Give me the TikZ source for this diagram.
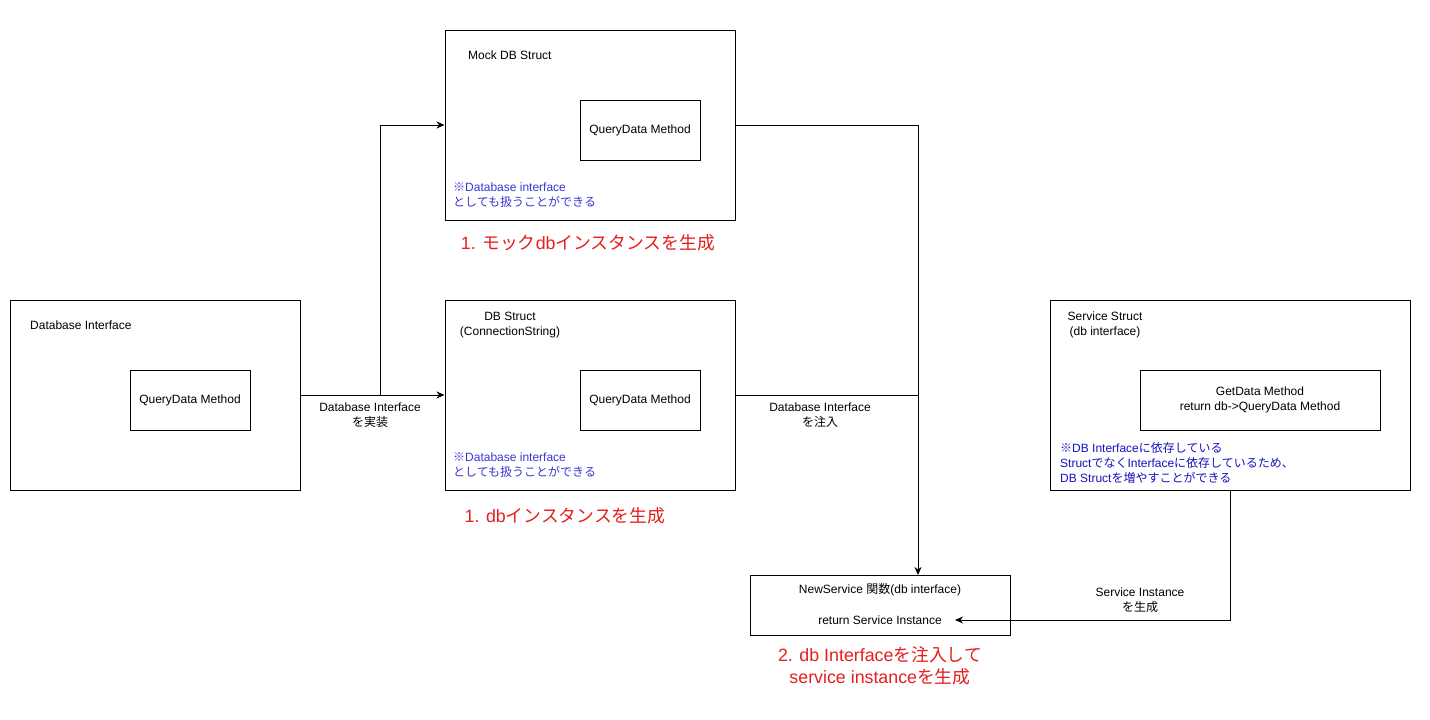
\documentclass[tikz,border=0pt]{standalone}
\usepackage{fontspec}
\setmainfont{Liberation Sans}
\newfontfamily\jp{Noto Sans CJK JP}
\usetikzlibrary{arrows.meta,calc}
\definecolor{noteA}{RGB}{56,56,208}
\definecolor{noteB}{RGB}{20,20,190}
\definecolor{redlbl}{RGB}{230,30,30}
\begin{document}
\begin{tikzpicture}[x=1pt,y=-1pt,
  font=\fontsize{12}{15}\selectfont,
  outerbox/.style={draw=black,line width=1pt,minimum width=290pt,minimum height=190pt,inner sep=0pt},
  innerbox/.style={draw=black,line width=1pt,minimum width=120pt,minimum height=60pt,inner sep=0pt,align=center},
  lbl/.style={inner sep=0pt,align=center},
  notea/.style={inner sep=0pt,align=left,text=noteA},
  noteb/.style={inner sep=0pt,align=left,text=noteB},
  redtext/.style={inner sep=0pt,align=center,text=redlbl,font=\fontsize{17.8}{22}\selectfont},
  conn/.style={draw=black,line width=1pt},
  arr/.style={conn,-{Stealth[length=8pt,width=7pt]}}
]
\useasboundingbox[fill=white] (0,0) rectangle (1430,720);

% Database Interface
\node[outerbox] (dbi) at (155,395) {};
\node[lbl,anchor=west] (dbilbl) at (30,325) {Database Interface};
\node[innerbox] (dbiq) at (190,400) {QueryData Method};

% Mock DB Struct
\node[outerbox] (mock) at (590,125) {};
\node[lbl,anchor=west] (mocklbl) at (468,55) {Mock DB Struct};
\node[innerbox] (mockq) at (640,130) {QueryData Method};
\node[notea,anchor=west] (mocknote) at (453,195) {{\jp ※}Database interface\\{\jp としても扱うことができる}};

% DB Struct
\node[outerbox] (db) at (590,395) {};
\node[lbl] (dblbl) at (510,325) {DB Struct\\(ConnectionString)};
\node[innerbox] (dbq) at (640,400) {QueryData Method};
\node[notea,anchor=west] (dbnote) at (453,465) {{\jp ※}Database interface\\{\jp としても扱うことができる}};

% Service Struct
\node[outerbox,minimum width=360pt] (svc) at (1230,395) {};
\node[lbl] (svclbl) at (1105,325) {Service Struct\\(db interface)};
\node[innerbox,minimum width=240pt] (svcq) at (1260,400) {GetData Method\\return db-\textgreater QueryData Method};
\node[noteb,anchor=west] (svcnote) at (1060,463) {{\jp ※}DB Interface{\jp に依存している}\\Struct{\jp でなく}Interface{\jp に依存しているため、}\\DB Struct{\jp を増やすことができる}};

% NewService
\node[draw=black,line width=1pt,minimum width=260pt,minimum height=60pt,inner sep=0pt] (ns) at (880,605) {};
\node[lbl] (nstitle) at (880,590) {NewService {\jp 関数}(db interface)};
\node[lbl] (nsret) at (880,620) {return Service Instance};

% red labels
\node[redtext] (red1) at (588,243) {1. {\jp モック}db{\jp インスタンスを生成}};
\node[redtext] (red2) at (565,516) {1. db{\jp インスタンスを生成}};
\node[redtext] (red3) at (880,666) {2. db Interface{\jp を注入して}\\service instance{\jp を生成}};

% connectors
\coordinate (split) at (380,395);
\coordinate (nsin) at (918,575);
\coordinate (retin) at (955,620);
\draw[arr] (dbi.east |- split) -- (db.west |- split);
\draw[arr] (split) |- (mock.west);
\draw[arr] (mock.east) -| (nsin);
\draw[conn] (db.east) -- (db.east -| nsin);
\draw[arr] (svc.south) |- (retin);

% connector labels
\node[lbl] (impl) at (370,415) {Database Interface\\{\jp を実装}};
\node[lbl] (inj) at (820,415) {Database Interface\\{\jp を注入}};
\node[lbl] (gen) at (1140,600) {Service Instance\\{\jp を生成}};
\end{tikzpicture}
\end{document}
